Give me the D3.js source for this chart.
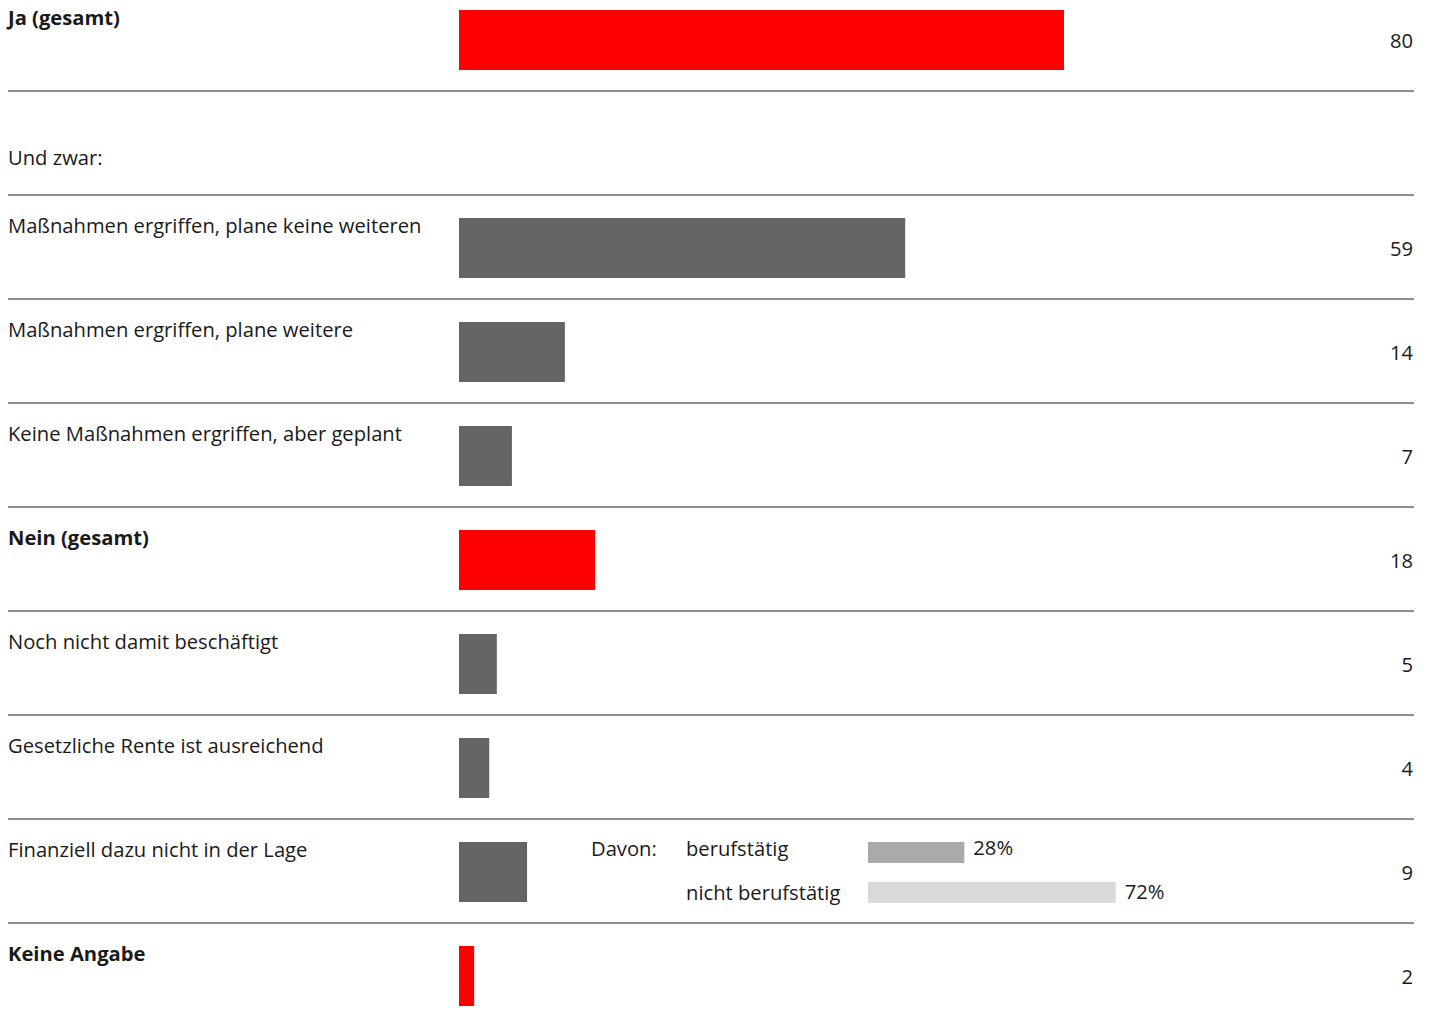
<!DOCTYPE html>
<html><head><meta charset="utf-8">
<script src="https://cdn.jsdelivr.net/npm/d3@7"></script>
<style>
html,body{margin:0;padding:0;background:#fff;}
svg text{font-family:"Open Sans","Noto Sans",sans-serif;fill:#1a1a1a;}
</style></head>
<body><svg id="chart" width="1432" height="1022"></svg>
<script>
// Data
const categories = ["Ja (gesamt)", "Und zwar:", "Maßnahmen ergriffen, plane keine weiteren", "Maßnahmen ergriffen, plane weitere",
  "Keine Maßnahmen ergriffen, aber geplant", "Nein (gesamt)", "Noch nicht damit beschäftigt",
  "Gesetzliche Rente ist ausreichend", "Finanziell dazu nicht in der Lage", "Keine Angabe"];
const values = [80, null, 59, 14, 7, 18, 5, 4, 9, 2];
const isTotal = [true, false, false, false, false, true, false, false, false, true];
const subCategories = ["berufstätig", "nicht berufstätig"];
const subValues = [28, 72];
const subPrefix = "Davon:";

const svg = d3.select("#chart");
const FS = 20.2;
const rowH = 104;
const rowTops = [-13, 91, 195, 299, 403, 507, 611, 715, 819, 923];

const x = d3.scaleLinear().domain([0, 80]).range([459, 1064]);
const xs = d3.scaleLinear().domain([0, 100]).range([868, 1212]);

const rows = svg.selectAll("g.row").data(categories).join("g")
  .attr("class", "row")
  .attr("transform", (d, i) => `translate(0,${rowTops[i]})`);

// separators
rows.filter((d, i) => i < categories.length - 1)
  .append("line")
  .attr("x1", 8).attr("x2", 1414)
  .attr("y1", rowH).attr("y2", rowH)
  .attr("stroke", "#6a6a6a").attr("stroke-width", 1.5);

// labels
rows.append("text")
  .attr("x", 8)
  .attr("y", (d, i) => i === 1 ? 74 : 37.5)
  .attr("font-size", FS)
  .attr("font-weight", (d, i) => isTotal[i] ? 700 : 400)
  .text(d => d);

// bars
rows.filter((d, i) => values[i] != null)
  .append("rect")
  .attr("x", x(0))
  .attr("y", 23)
  .attr("height", 60)
  .attr("width", (d) => x(values[categories.indexOf(d)]) - x(0))
  .attr("fill", (d) => isTotal[categories.indexOf(d)] ? "#ff0000" : "#646464");

// values
rows.filter((d, i) => values[i] != null)
  .append("text")
  .attr("x", 1413)
  .attr("y", 61)
  .attr("text-anchor", "end")
  .attr("font-size", FS)
  .text(d => values[categories.indexOf(d)]);

// breakdown in "Finanziell" row
const fin = rows.filter((d, i) => i === 8);
fin.append("text").attr("x", 591).attr("y", 37).attr("font-size", FS).text(subPrefix);
const subTextY = [37, 81];
const subBarY = [23, 63];
const sub = fin.selectAll("g.sub").data(subCategories).join("g").attr("class", "sub");
sub.append("text").attr("x", 686).attr("y", (d, i) => subTextY[i]).attr("font-size", FS).text(d => d);
sub.append("rect").attr("x", xs(0)).attr("y", (d, i) => subBarY[i]).attr("height", 21)
  .attr("width", (d, i) => xs(subValues[i]) - xs(0))
  .attr("fill", (d, i) => i === 0 ? "#aaaaaa" : "#d9d9d9");
sub.append("text").attr("x", (d, i) => xs(subValues[i]) + 9).attr("y", (d, i) => subTextY[i] - 1)
  .attr("font-size", FS)
  .text((d, i) => subValues[i] + "%");
</script></body></html>
